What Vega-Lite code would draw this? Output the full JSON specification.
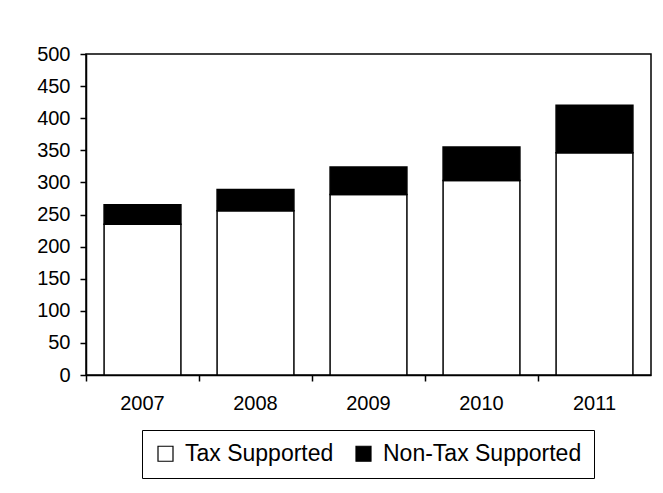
{
  "$schema": "https://vega.github.io/schema/vega-lite/v6.json",
  "width": 565,
  "height": 321,
  "padding": {"left": 36, "top": 44, "right": 10, "bottom": 10},
  "data": {"values": [
    {"year": "2007", "series": "Tax Supported", "s": 1, "value": 235},
    {"year": "2007", "series": "Non-Tax Supported", "s": 2, "value": 30},
    {"year": "2008", "series": "Tax Supported", "s": 1, "value": 256},
    {"year": "2008", "series": "Non-Tax Supported", "s": 2, "value": 33},
    {"year": "2009", "series": "Tax Supported", "s": 1, "value": 281},
    {"year": "2009", "series": "Non-Tax Supported", "s": 2, "value": 43},
    {"year": "2010", "series": "Tax Supported", "s": 1, "value": 303},
    {"year": "2010", "series": "Non-Tax Supported", "s": 2, "value": 52},
    {"year": "2011", "series": "Tax Supported", "s": 1, "value": 346},
    {"year": "2011", "series": "Non-Tax Supported", "s": 2, "value": 74}
  ]},
  "mark": {"type": "bar", "stroke": "black", "strokeWidth": 1.5, "width": {"band": 0.68}},
  "encoding": {
    "x": {"field": "year", "type": "nominal", "title": null,
      "scale": {"paddingInner": 0, "paddingOuter": 0},
      "axis": {"bandPosition": 0, "labelAngle": 0, "domainColor": "black", "domainWidth": 1.5, "tickColor": "black", "tickWidth": 1.5, "tickSize": 6, "labelFontSize": 20, "labelColor": "black", "labelFont": "Liberation Sans", "labelPadding": 12}},
    "y": {"field": "value", "type": "quantitative", "title": null, "stack": "zero",
      "scale": {"domain": [0, 500]},
      "axis": {"values": [0,50,100,150,200,250,300,350,400,450,500], "grid": false, "domainColor": "black", "domainWidth": 1.5, "tickColor": "black", "tickWidth": 1.5, "tickSize": 6, "labelFontSize": 20, "labelColor": "black", "labelFont": "Liberation Sans", "labelPadding": 10}},
    "color": {"field": "series", "type": "nominal", "title": null,
      "scale": {"domain": ["Tax Supported", "Non-Tax Supported"], "range": ["white", "black"]},
      "legend": {"orient": "none", "legendX": 56, "legendY": 376, "direction": "horizontal", "strokeColor": "black", "padding": 12, "labelFontSize": 23, "labelFont": "Liberation Sans", "labelColor": "black", "labelLimit": 400, "symbolType": "square", "symbolSize": 225, "symbolStrokeColor": "black", "symbolStrokeWidth": 1.2, "columnPadding": 18, "labelOffset": 8}},
    "order": {"field": "s", "type": "quantitative"}
  },
  "config": {"view": {"stroke": "black", "strokeWidth": 1.5}}
}
